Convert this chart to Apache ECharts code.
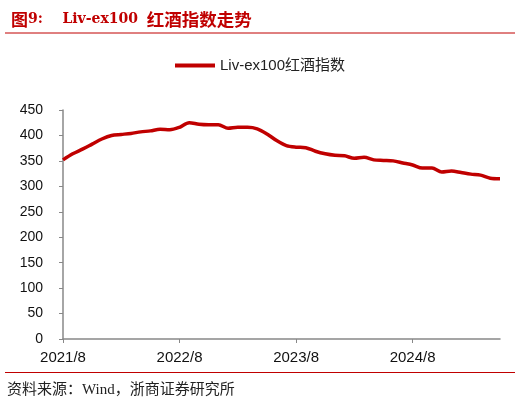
<!DOCTYPE html>
<html><head><meta charset="utf-8">
<script src="https://cdn.jsdelivr.net/npm/echarts@6/dist/echarts.min.js"></script>
<style>html,body{margin:0;padding:0;background:#fff}#c{width:520px;height:404px}</style>
</head><body><div id="c"></div>
<script>
const startYear = 2021, startMonth = 8;
const values = [352,364,373,383,393,400,402,404,407,409,412,411,416,425,422,421,421,414,416,416,413,403,390,380,377,376,369,364,361,360,355,357,352,351,350,346,342,336,336,328,330,327,324,322,316,315];
const categories = values.map((v,i)=>{const m=startMonth-1+i;return (startYear+Math.floor(m/12))+'/'+(m%12+1);});
const yTicks = [0,50,100,150,200,250,300,350,400,450];
const seriesName = 'Liv-ex100红酒指数';
const chart = echarts.init(document.getElementById('c'));
chart.setOption({
  animation:false,
  title:{text:'{c|图}{l|9:    Liv-ex100 }{g|红酒指数走势}',left:6,top:6,
    textStyle:{rich:{
      c:{color:'#c00000',fontSize:17,fontWeight:'bold',fontFamily:'Noto Sans CJK SC'},
      l:{color:'#c00000',fontSize:14,fontWeight:'bold',fontFamily:'DejaVu Serif'},
      g:{color:'#c00000',fontSize:17.5,fontWeight:'bold',fontFamily:'Noto Sans CJK SC',padding:[0,0,0,4]}
    }}},
  legend:{top:53,left:170,itemWidth:40,itemHeight:4,icon:'rect',itemGap:4,data:[seriesName],textStyle:{fontSize:15,color:'#222',fontFamily:'Liberation Sans, Noto Sans CJK SC'}},
  graphic:[
    {type:'line',shape:{x1:5,y1:33,x2:515,y2:33},style:{stroke:'#c00000',lineWidth:1}},
    {type:'line',shape:{x1:5,y1:372.5,x2:515,y2:372.5},style:{stroke:'#c00000',lineWidth:1}},
    {type:'text',left:7,top:383,style:{text:'资料来源：Wind，浙商证券研究所',fontSize:15,fill:'#222',fontFamily:'Liberation Serif, Noto Sans CJK SC'}}
  ],
  grid:{left:63,right:20,top:110,bottom:65},
  xAxis:{type:'category',data:categories,boundaryGap:false,
    axisLine:{lineStyle:{color:'#888',width:1.5}},
    axisTick:{interval:11,length:4,lineStyle:{color:'#888'}},
    axisLabel:{interval:11,color:'#111',fontSize:15,fontFamily:'Liberation Sans',margin:11}},
  yAxis:{type:'value',min:0,max:450,interval:50,
    axisLine:{show:true,lineStyle:{color:'#888',width:1.5}},
    axisTick:{show:true,length:4,lineStyle:{color:'#888'}},
    splitLine:{show:false},
    axisLabel:{color:'#111',fontSize:14,fontFamily:'Liberation Sans',margin:20}},
  series:[{name:seriesName,type:'line',data:values,smooth:0.3,showSymbol:false,
    lineStyle:{color:'#c00000',width:3.5},itemStyle:{color:'#c00000'}}]
});
</script></body></html>
